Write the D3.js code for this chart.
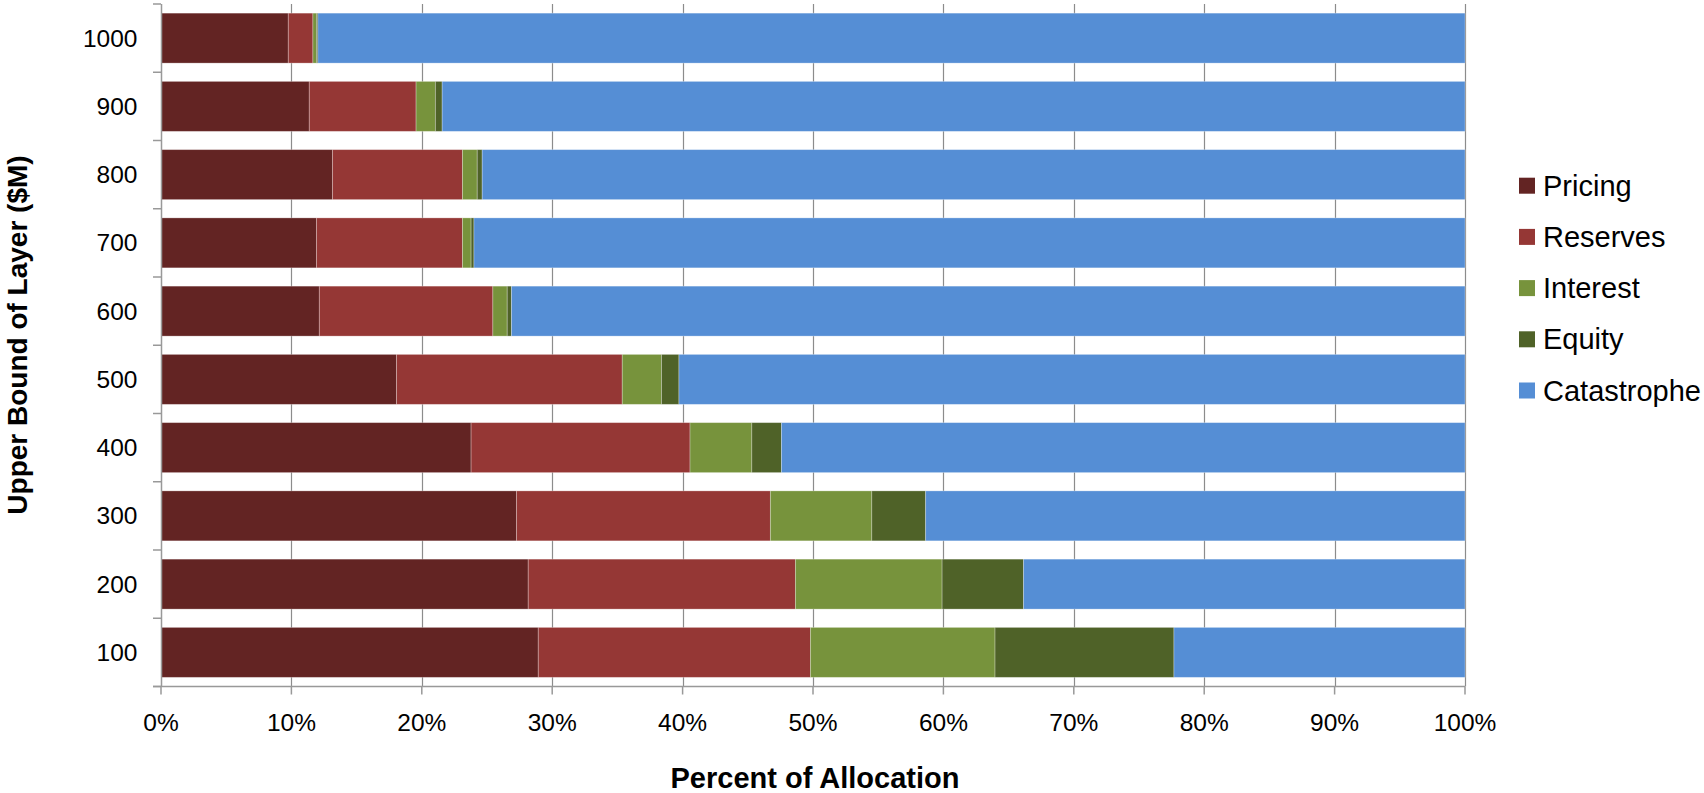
<!DOCTYPE html>
<html>
<head>
<meta charset="utf-8">
<script src="https://cdn.jsdelivr.net/npm/d3@7"></script>
<style>
  html, body { margin: 0; padding: 0; background: #fff; }
  svg { display: block; font-family: "Liberation Sans", Arial, sans-serif; }
</style>
</head>
<body>
<svg id="chart" width="1704" height="793"></svg>
<script>
// ---- Data ----
const categories = ["1000", "900", "800", "700", "600", "500", "400", "300", "200", "100"];
const seriesNames = ["Pricing", "Reserves", "Interest", "Equity", "Catastrophe"];
const pricing     = [9.76, 11.37, 13.15, 11.92, 12.14, 18.06, 23.78, 27.26, 28.16, 28.93];
const reserves    = [1.89,  8.19,  9.97, 11.20, 13.31, 17.31, 16.79, 19.47, 20.49, 20.87];
const interest    = [0.27,  1.48,  1.13,  0.66,  1.10,  3.01,  4.74,  7.78, 11.25, 14.16];
const equity      = [0.11,  0.52,  0.38,  0.22,  0.33,  1.34,  2.27,  4.13,  6.25, 13.72];
const catastrophe = [87.97, 78.44, 75.37, 76.00, 73.12, 60.28, 52.42, 41.36, 33.85, 22.32];
const xTickValues = [0, 10, 20, 30, 40, 50, 60, 70, 80, 90, 100];
const colors = ["#632423", "#953735", "#77933C", "#4F6228", "#558ED5"];

(function () {
const seriesValues = [pricing, reserves, interest, equity, catastrophe];
const table = categories.map((c, i) => {
  const row = { cat: c };
  seriesNames.forEach((s, k) => row[s] = seriesValues[k][i]);
  return row;
});

// ---- Layout ----
const svg = d3.select("#chart");
const pLeft = 161, pRight = 1465, pTop = 4, pBottom = 686.5;

const x = d3.scaleLinear().domain([0, 100]).range([pLeft, pRight]);
const y = d3.scaleBand().domain(categories).range([pTop, pBottom])
  .paddingInner(0.268).paddingOuter(0.134);

// gridlines
svg.append("g").selectAll("line").data(xTickValues.filter(v => v > 0)).join("line")
  .attr("x1", d => Math.round(x(d)) + 0.5).attr("x2", d => Math.round(x(d)) + 0.5)
  .attr("y1", pTop).attr("y2", pBottom)
  .attr("stroke", "#8c8c8c").attr("stroke-width", 1.2);

// bars
const stack = d3.stack().keys(seriesNames)(table);
svg.append("g").selectAll("g").data(stack).join("g")
  .attr("fill", (d, i) => colors[i])
  .selectAll("rect").data(d => d).join("rect")
  .attr("x", d => x(d[0]))
  .attr("width", d => x(d[1]) - x(d[0]))
  .attr("y", d => y(d.data.cat))
  .attr("height", y.bandwidth())
  .attr("stroke", "rgba(255,255,255,0.35)")
  .attr("stroke-width", 0.8);

// y axis line + ticks at band boundaries
const step = y.step();
const yBoundaries = d3.range(categories.length + 1).map(i => pTop + i * step);
const axisColor = "#999999";
svg.append("line").attr("x1", pLeft + 0.5).attr("x2", pLeft + 0.5)
  .attr("y1", pTop).attr("y2", pBottom).attr("stroke", axisColor).attr("stroke-width", 1.5);
svg.append("g").selectAll("line").data(yBoundaries).join("line")
  .attr("x1", pLeft - 8).attr("x2", pLeft)
  .attr("y1", d => d).attr("y2", d => d)
  .attr("stroke", axisColor).attr("stroke-width", 1.5);

// x axis line + ticks
svg.append("line").attr("x1", pLeft - 8).attr("x2", pRight)
  .attr("y1", pBottom).attr("y2", pBottom).attr("stroke", axisColor).attr("stroke-width", 1.5);
svg.append("g").selectAll("line").data(xTickValues).join("line")
  .attr("x1", d => x(d)).attr("x2", d => x(d))
  .attr("y1", pBottom).attr("y2", pBottom + 8)
  .attr("stroke", axisColor).attr("stroke-width", 1.5);

// x tick labels
svg.append("g").selectAll("text").data(xTickValues).join("text")
  .attr("x", d => x(d)).attr("y", 731)
  .attr("text-anchor", "middle").attr("font-size", 24.5).attr("fill", "#000")
  .text(d => d + "%");

// y tick labels
svg.append("g").selectAll("text").data(categories).join("text")
  .attr("x", 137.5).attr("y", d => y(d) + y.bandwidth() / 2)
  .attr("text-anchor", "end").attr("dominant-baseline", "central")
  .attr("font-size", 24.5).attr("fill", "#000")
  .text(d => d);

// axis titles
svg.append("text").attr("x", (pLeft + pRight) / 2 + 2).attr("y", 788)
  .attr("text-anchor", "middle").attr("font-size", 29).attr("font-weight", "bold")
  .text("Percent of Allocation");
svg.append("text").attr("transform", "translate(27,335) rotate(-90)")
  .attr("text-anchor", "middle").attr("font-size", 28).attr("font-weight", "bold")
  .text("Upper Bound of Layer ($M)");

// legend
const legend = svg.append("g").selectAll("g").data(seriesNames).join("g")
  .attr("transform", (d, i) => `translate(1519, ${177.7 + i * 51.2})`);
legend.append("rect").attr("width", 16).attr("height", 16)
  .attr("fill", (d, i) => colors[i]);
legend.append("text").attr("x", 24).attr("y", 18)
  .attr("font-size", 29).attr("fill", "#000").text(d => d);
})();
</script>
</body>
</html>
